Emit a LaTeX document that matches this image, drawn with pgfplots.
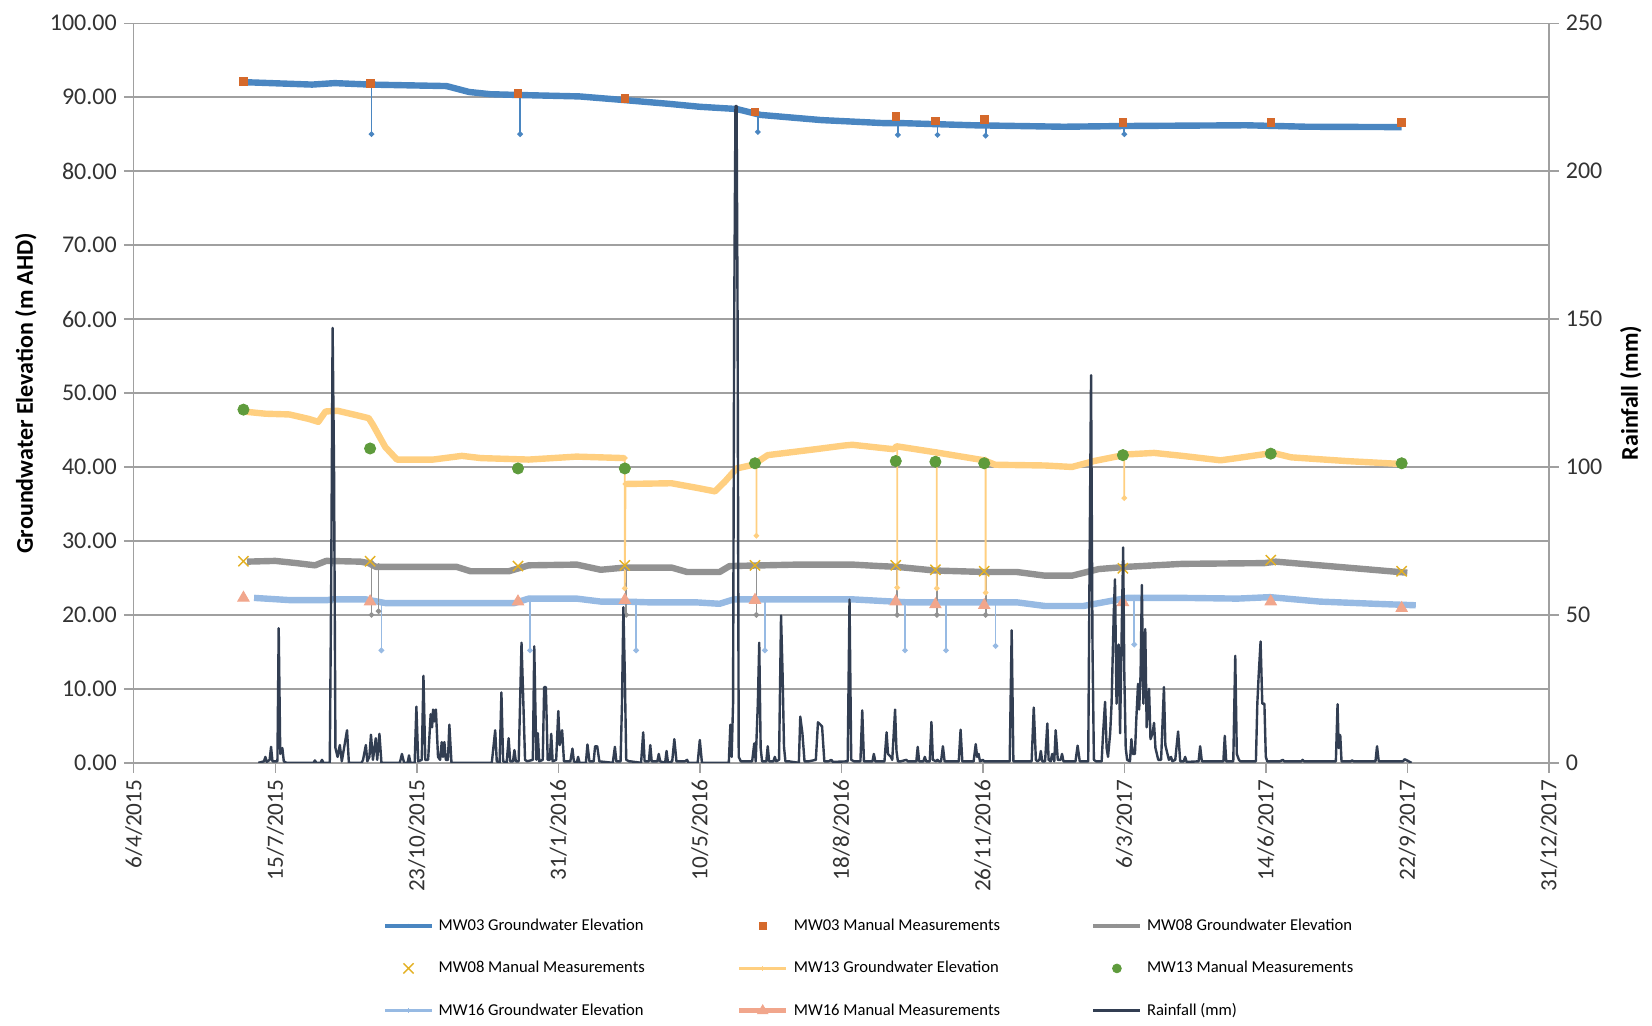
\documentclass[border=0pt]{standalone}
\usepackage{pgfplots}
\pgfplotsset{compat=1.18}
\usepackage{fontspec}
\setmainfont{Carlito}

\definecolor{mw03}{HTML}{4A86C1}
\definecolor{mw03m}{HTML}{D5692B}
\definecolor{mw08}{HTML}{929292}
\definecolor{mw08m}{HTML}{E3B022}
\definecolor{mw13}{HTML}{FFCF80}
\definecolor{mw13m}{HTML}{5E9B3C}
\definecolor{mw16}{HTML}{97BAE3}
\definecolor{mw16m}{HTML}{F1A68C}
\definecolor{rain}{HTML}{323E52}
\definecolor{gridc}{HTML}{A0A0A0}

\pgfplotsset{
  common/.style={
    scale only axis, width=707.5pt, height=369.8pt,
    xmin=0, xmax=1000,
    /pgf/number format/assume math mode=true,
    tick align=outside, major tick length=5pt,
    tick style={gridc, line width=0.7pt},
    axis line style={gridc, line width=0.7pt},
    unbounded coords=jump,
    tick label style={black!80},
  },
  legline/.style={legend image code/.code={\draw[mark repeat=2,mark phase=2,##1] plot coordinates {(0pt,0pt) (11.75pt,0pt) (23.5pt,0pt)};}},
  legmark/.style={legend image code/.code={\path (0pt,0pt) (23.5pt,0pt); \draw[##1] plot coordinates {(11.75pt,0pt)};}},
}

\begin{document}
\begin{tikzpicture}
\begin{axis}[common,
  axis x line*=bottom, axis y line*=left,
  ymin=0, ymax=100, ytick={0,10,...,100},
  yticklabel style={font=\fontsize{12}{14}\selectfont, /pgf/number format/.cd, fixed, fixed zerofill, precision=2, 1000 sep={}},
  ymajorgrids, grid style={gridc, line width=0.7pt},
  xtick={0,100,...,1000},
  xticklabels={6/4/2015,15/7/2015,23/10/2015,31/1/2016,10/5/2016,18/8/2016,26/11/2016,6/3/2017,14/6/2017,22/9/2017,31/12/2017},
  xticklabel style={rotate=90, anchor=east, font=\fontsize{11.6}{13}\selectfont},
  ylabel={Groundwater Elevation (m AHD)},
  ylabel style={font=\bfseries\fontsize{12}{14}\selectfont, at={(axis description cs:-0.0763,0.5)}, anchor=center},
  legend columns=3, legend cell align=left,
  legend style={at={(axis description cs:0.1764,-0.2065)}, anchor=north west, draw=none, fill=none,
    inner sep=0pt, outer sep=0pt, row sep=10.7pt, column sep=0pt,
    font=\fontsize{8.3}{10}\selectfont,
    nodes={inner sep=1pt, text height=6.5pt, text depth=2pt},
    /tikz/every odd column/.append style={column sep=1.5pt}},
]
\coordinate (BL) at (rel axis cs:0,0);
\coordinate (TR) at (rel axis cs:1,1);

% ---- Groundwater elevation lines ----
\addplot[mw03, line width=3.2pt, line join=round, forget plot] coordinates {
(78,92.0) (82,92.0) (126,91.7) (142,91.9) (167,91.7) (221,91.5) (237,90.7) (252,90.4) (271,90.3) (315,90.1) (347,89.6) (378,89.1) (400,88.7) (426,88.4) (443,87.6) (486,86.9) (529,86.5) (541,86.5) (593,86.2) (657,86.0) (700,86.1) (786,86.2) (829,86.0) (896,85.95)};

\addplot[mw08, line width=3.2pt, line join=round, forget plot] coordinates {
(80,27.2) (100,27.3) (115,27.0) (128,26.7) (136,27.3) (160,27.2) (166,27.0) (171,26.5) (195,26.5) (228,26.5) (238,25.9) (265,25.9) (279,26.7) (313,26.8) (330,26.1) (347,26.4) (380,26.4) (391,25.8) (414,25.8) (421,26.6) (469,26.8) (508,26.8) (527,26.6) (539,26.5) (566,26.0) (601,25.8) (624,25.8) (644,25.3) (663,25.3) (682,26.2) (702,26.5) (741,26.9) (799,27.0) (807,27.2) (857,26.4) (900,25.7)};

\addplot[mw13, line width=3.2pt, line join=round, forget plot] coordinates {
(77.5,47.5) (93,47.2) (110,47.1) (123.6,46.5) (130.4,46.1) (135.5,47.5) (144,47.6) (157.4,47.0) (166,46.6) (169,45.7) (177.7,42.7) (186,41.0) (211.5,41.0) (231.8,41.5) (245.3,41.2) (279,41.0) (296,41.2) (312.8,41.4) (346.6,41.2) (347,nan) (347.5,37.7) (380,37.8) (397.3,37.2) (410.8,36.7) (417.6,38.0) (426,39.8) (437.8,40.3) (448,41.6) (464.9,42.0) (481.8,42.4) (502,42.9) (507.8,43.0) (527,42.6) (537,42.4) (539,42.8) (566,42.0) (601,40.9) (608.7,40.3) (643.7,40.2) (663,40.0) (678.6,40.8) (702,41.7) (721,41.9) (741,41.5) (768,40.9) (779.6,41.2) (805,41.9) (818,41.3) (857,40.8) (896,40.4)};

\addplot[mw16, line width=3.2pt, line join=round, forget plot] coordinates {
(85,22.3) (110,22.0) (137,22.0) (140,22.1) (164,22.1) (177.7,21.6) (228,21.6) (245,21.6) (269,21.6) (279,22.2) (313,22.2) (330,21.8) (347,21.8) (363.5,21.7) (397,21.7) (414,21.5) (424,22.1) (469,22.1) (508,22.1) (527,21.9) (546.6,21.7) (624,21.7) (644,21.2) (671,21.2) (702,22.3) (741,22.3) (780,22.2) (803,22.4) (838,21.8) (877,21.5) (906,21.3)};

% ---- logger drops ----
\addplot[mw03, line width=0.9pt, mark=*, mark size=0.9pt, forget plot] coordinates {
(168,91.7) (168,85.0) (168,nan) (273,90.3) (273,85.0) (273,nan) (441,87.7) (441,85.3) (441,nan) (540,86.5) (540,84.9) (540,nan) (568,86.4) (568,84.9) (568,nan) (602,86.3) (602,84.8) (602,nan) (700,86.1) (700,85.0)};

\addplot[mw08, line width=0.9pt, mark=*, mark size=0.9pt, forget plot] coordinates {
(168,27.1) (168,20.0) (168,nan) (173,26.6) (173,20.5) (173,nan) (348,26.4) (348,20.0) (348,nan) (440,26.7) (440,20.0) (440,nan) (539.5,26.5) (539.5,20.0) (539.5,nan) (567.5,26.0) (567.5,20.0) (567.5,nan) (602,25.8) (602,20.0)};

\addplot[mw13, line width=0.9pt, mark=*, mark size=0.9pt, forget plot] coordinates {
(347,41.2) (347,23.6) (347.5,37.7) (347.5,nan) (440,40.4) (440,30.7) (440,nan) (539.5,42.6) (539.5,23.7) (539.5,nan) (567.5,42.0) (567.5,23.6) (567.5,nan) (602,41.0) (602,23.0) (602,nan) (700,41.6) (700,35.8)};

\addplot[mw16, line width=0.9pt, mark=*, mark size=0.9pt, forget plot] coordinates {
(175,21.7) (175,15.2) (175,nan) (280,22.2) (280,15.2) (280,nan) (355,21.8) (355,15.2) (355,nan) (446,22.1) (446,15.2) (446,nan) (545,21.7) (545,15.2) (545,nan) (574,21.7) (574,15.2) (574,nan) (609,21.7) (609,15.8) (609,nan) (707,22.3) (707,16.0)};

% ---- manual measurements ----
\addplot[only marks, mark=square*, mark size=1.9pt, color=mw03m, forget plot] coordinates {
(77.5,92.1) (167,91.9) (271.5,90.5) (347,89.8) (439,88.0) (538.5,87.4) (566.5,86.8) (601,87.0) (699,86.6) (803.5,86.6) (896,86.6)};

\addplot[only marks, mark=x, mark size=3.6pt, color=mw08m, mark options={line width=0.7pt}, forget plot] coordinates {
(77.5,27.25) (167,27.25) (271.5,26.6) (347,26.7) (439,26.7) (538.5,26.7) (566.5,26.1) (601,25.9) (699,26.3) (803.5,27.4) (896,25.9)};

\addplot[only marks, mark=*, mark size=2.8pt, color=mw13m, forget plot] coordinates {
(77.5,47.75) (167,42.5) (271.5,39.8) (347,39.8) (439,40.5) (538.5,40.8) (566.5,40.7) (601,40.5) (699,41.6) (803.5,41.8) (896,40.5)};

\addplot[only marks, mark=triangle*, mark size=3.3pt, color=mw16m, forget plot] coordinates {
(77.5,22.3) (167,21.8) (271.5,21.8) (347,22.0) (439,22.0) (538.5,21.8) (566.5,21.4) (601,21.3) (699,21.7) (803.5,21.8) (896,20.9)};

% ---- legend ----
\addlegendimage{legline, mw03, line width=1.6pt, mark=+, mark size=1.2pt, mark options={line width=0.5pt}}
\addlegendentry{\makebox[148pt][l]{MW03 Groundwater Elevation}}
\addlegendimage{legmark, only marks, mark=square*, mark size=1.6pt, mw03m}
\addlegendentry{\makebox[148pt][l]{MW03 Manual Measurements}}
\addlegendimage{legline, mw08, line width=1.6pt, mark=+, mark size=1.2pt, mark options={line width=0.5pt}}
\addlegendentry{\makebox[148pt][l]{MW08 Groundwater Elevation}}
\addlegendimage{legmark, only marks, mark=x, mark size=3.6pt, mw08m, mark options={line width=0.7pt}}
\addlegendentry{\makebox[148pt][l]{MW08 Manual Measurements}}
\addlegendimage{legline, mw13, line width=1.6pt, mark=+, mark size=1.2pt, mark options={line width=0.5pt}}
\addlegendentry{\makebox[148pt][l]{MW13 Groundwater Elevation}}
\addlegendimage{legmark, only marks, mark=*, mark size=2.2pt, mw13m}
\addlegendentry{\makebox[148pt][l]{MW13 Manual Measurements}}
\addlegendimage{legline, mw16, line width=1.6pt, mark=+, mark size=1.2pt, mark options={line width=0.5pt}}
\addlegendentry{\makebox[148pt][l]{MW16 Groundwater Elevation}}
\addlegendimage{legline, mw16m, line width=2.6pt, mark=triangle*, mark size=3pt, mark options={line width=0.4pt}}
\addlegendentry{\makebox[148pt][l]{MW16 Manual Measurements}}
\addlegendimage{legline, rain, line width=1.6pt}
\addlegendentry{\makebox[148pt][l]{Rainfall (mm)}}
\end{axis}

\begin{axis}[common,
  axis y line*=right, axis x line=none,
  ymin=0, ymax=250, ytick={0,50,...,250},
  yticklabel style={font=\fontsize{12}{14}\selectfont},
  ylabel={Rainfall (mm)},
  ylabel style={font=\bfseries\fontsize{12}{14}\selectfont, at={(axis description cs:1.058,0.5)}, anchor=center, rotate=0},
]
\addplot[rain, line width=1.2pt, line join=round] coordinates {
(88,0) (92,0.5) (93,2) (94,0.3) (96,1) (97,5.4) (98,0.5) (101.5,0.5) (102.4,45.5) (103.5,3) (105,5) (106,0.5) (108,0)
(127,0) (128,0.8) (129,0) (132,0) (133,1) (134,0)
(138.5,0) (139.5,60) (140.5,147) (141.5,100) (142.5,5) (144,2) (145.6,6) (147,0.5) (150.7,11) (152,0)
(161,0) (162,1) (164,6) (165,0.5) (166.5,2) (167.6,9.5) (169,1) (171,8.3) (172,1) (173.6,9.8) (175,0)
(188,0) (189.5,3) (191,0) (193.5,0) (194.5,2.5) (195.5,0)
(198.5,0) (199.7,19) (201,0.5) (203.5,1) (204.7,29.4) (206,1) (208,1) (209.8,16.4) (210.8,12) (211.5,18) (212.5,14) (213.5,18) (215,2) (216.5,1) (217.6,7) (218.5,2) (219.5,7) (220.5,1) (222,1) (223,12.9) (224.5,0)
(253,0) (255.4,11) (256.5,0.5) (258.5,0) (259.8,23.8) (261,0.5) (263.5,0) (264.9,8.3) (266,0.5) (268,0.5) (269,4.3) (270,0.5)
(272,0.5) (274,40.6) (275,25) (276.5,1) (278,0.5) (282,1) (283,39.4) (284.5,1) (285.5,10) (286.5,0.5) (289,1) (290,25.6) (291.2,25.6) (292.5,1) (294,1) (295,9.8) (296,0.5) (298.5,1) (300,17.5) (301,6) (302.7,11) (304,0.5)
(308.5,0.5) (310,4.8) (311,0.5) (313,0) (314,2) (315,0) (319.5,0) (320.6,6.2) (322,0.5) (325,0.5) (326,5.6) (327.5,5.6) (329,0.5)
(338.5,0) (340,5.4) (341,0.5) (344,0.5) (345,20) (346,52.6) (347,30) (348,1) (350,0.5) (351,0.5)
(358.5,0) (360,10.3) (361,0.5) (364,0.5) (365,6) (366,0.5) (370,0.5) (371,3) (372,0.5) (375.5,0) (376.5,4) (377.5,0)
(380.5,0.5) (382,8) (383.5,0.5) (389.5,0.5) (391,1) (392,0)
(398.5,0) (400,7.7) (401.5,0)
(420.5,0) (421.6,12.9) (422.5,2) (423.5,20) (424.3,150) (425.2,222) (426,222) (426.7,150) (427.5,2) (429,0.5)
(437,0.5) (438.5,6.6) (439.5,0.5) (441,20) (442,40.6) (443,5) (444,0.5) (447,0.5) (448,5.6) (449,0.5) (452,0.5) (453,2) (454,0.5)
(456,1) (457.4,49.8) (458.5,30) (459.5,5.4) (460.5,0.5) (463,0.5)
(470,0) (471,15.6) (472.5,10) (474,0.5) (477,0.5)
(482,1) (483.5,13.7) (485,13) (486.4,12.3) (488,0.5)
(491,0.5) (493,1) (494,0.3)
(504.5,0.5) (505.8,55.2) (507,1) (509,0.5) (511,0.5)
(513.5,0.5) (514.8,17.7) (516,0.5)
(522,0.5) (523,3) (524,0.5)
(530.5,0.5) (532,10.3) (533,3) (535,2) (536,1) (538,18) (539,4) (540,0.5) (542,0.5) (546,1) (547,0.5)
(553,0.5) (554,5.4) (555,0.5) (558,0.5) (559,2) (560,0.5)
(562.5,0.5) (563.7,13.8) (564.7,1) (567,0.5) (568,1) (569,0.5)
(570.5,0.5) (571.8,5.6) (573,0.5)
(583,0.5) (584.3,11.2) (585.5,0.5)
(593.5,0.5) (595,6.3) (596,2) (597,3) (598,0.5) (600,1) (601,0.5)
(619,0.5) (620.4,44.8) (621.6,0.5)
(634.5,0.5) (636,18.7) (637.5,1) (638.5,0.5) (640,1) (641,4) (642,0.5) (644,0.5) (645.6,13.3) (646.5,1) (648,0.5) (649,3) (650.5,0.5) (651.5,11) (653,1) (655,1) (656,3) (657,0.5)
(665.5,0.5) (667,5.8) (668.5,0.5)
(674.5,0.5) (675.5,70) (676.5,131) (677.5,40) (678.5,1) (680,0.5)
(684,0.5) (685,10) (686.4,20.6) (687.5,5) (688.5,2) (690,10) (691,20) (692.5,50) (693.4,62) (694.5,20) (696,40) (697,10) (698,40) (699.2,72.8) (700,30) (701,5) (702,1) (704,0.5) (705,8) (706,3)
(707.5,3) (708.5,15) (709.7,26.7) (710.5,18) (711.5,30) (712.4,60.1) (713.5,20) (714.8,45.2) (715.8,12) (717.5,25) (718.5,8) (720,10) (721,13.5) (722,5) (723,3) (724,1) (726,1) (728,25.6) (729,6) (730,4) (731.5,1) (733,2) (734,0.5) (736,1) (738,10.6) (739.5,0.5) (742,0.5) (743,2) (744,0.3)
(752.5,0.5) (753.6,5.6) (754.8,0.5)
(770,0.5) (771,9.1) (772,0.5)
(777,0.5) (778.4,36.2) (779.5,3) (781,1) (782,0.5)
(793,0.5) (794,20) (795,30) (796.3,41) (797.5,20) (799,20) (800,2) (801,0.5)
(810,0.5) (812,1) (813,0.5) (825,0.5) (826,1) (827,0.5)
(849.5,0.5) (850.7,19.8) (851.5,5) (852.6,9.4) (853.5,0.5)
(860,0.5) (861,0.8) (862,0.5)
(877.5,0.5) (878.6,5.6) (879.8,0.5)
(897,0.5) (898,1.2) (899,1) (901,0.5) (903,0)};
\end{axis}

\pgfresetboundingbox
\path[use as bounding box] ([xshift=-66.9pt,yshift=-131.1pt]BL) rectangle ([xshift=51.6pt,yshift=11.6pt]TR);
\end{tikzpicture}
\end{document}
